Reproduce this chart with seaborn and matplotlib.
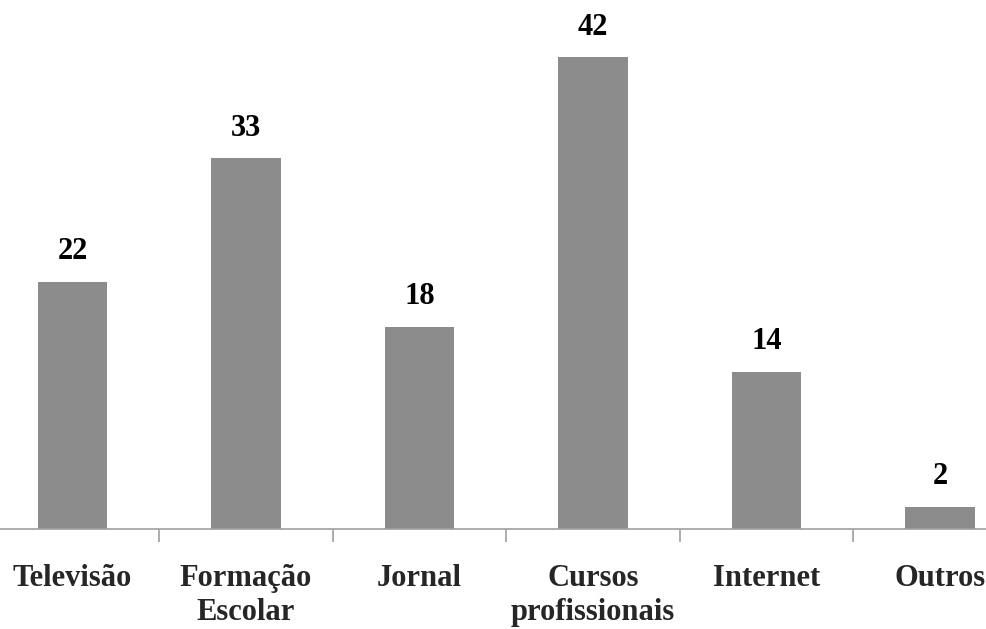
import matplotlib
matplotlib.use("Agg")
import matplotlib.pyplot as plt
import seaborn as sns
import pandas as pd
from matplotlib.ticker import FixedLocator

categories = ["Televisão", "Formação\nEscolar", "Jornal", "Cursos\nprofissionais", "Internet", "Outros"]
values = [22, 33, 18, 42, 14, 2]

sns.set_theme(style="white")
plt.rcParams["font.family"] = ["Liberation Serif", "DejaVu Serif"]
plt.rcParams["font.weight"] = "bold"

df = pd.DataFrame({"fonte": categories, "n": values})

fig = plt.figure(figsize=(9.87, 6.29), dpi=100)
ax = fig.add_axes([0.0, 100 / 629, 1.0, 529 / 629])

sns.barplot(data=df, x="fonte", y="n", color="#8c8c8c", saturation=1,
            width=0.4, ax=ax, edgecolor="none")

ax.set_xlim(-72.5 / 173.5, (987 - 72.5) / 173.5)
ax.set_ylim(0, 529 / 11.24)

for c in ax.containers:
    ax.bar_label(c, labels=[str(v) for v in values], padding=11,
                 fontsize=22, fontweight="bold", color="black")

for side in ["top", "right", "left"]:
    ax.spines[side].set_visible(False)
ax.spines["bottom"].set_color("#a0a0a0")
ax.spines["bottom"].set_linewidth(1.2)

ax.set_yticks([])
ax.set_xlabel("")
ax.set_ylabel("")
ax.tick_params(axis="x", which="major", length=0, pad=25, labelsize=22)
ax.xaxis.set_minor_locator(FixedLocator([0.5, 1.5, 2.5, 3.5, 4.5]))
ax.tick_params(axis="x", which="minor", bottom=True, length=9, width=1.2,
               color="#a0a0a0", direction="out")
for lbl in ax.get_xticklabels():
    lbl.set_fontweight("bold")
    lbl.set_linespacing(1.25)

fig.savefig("out.png", dpi=100)
